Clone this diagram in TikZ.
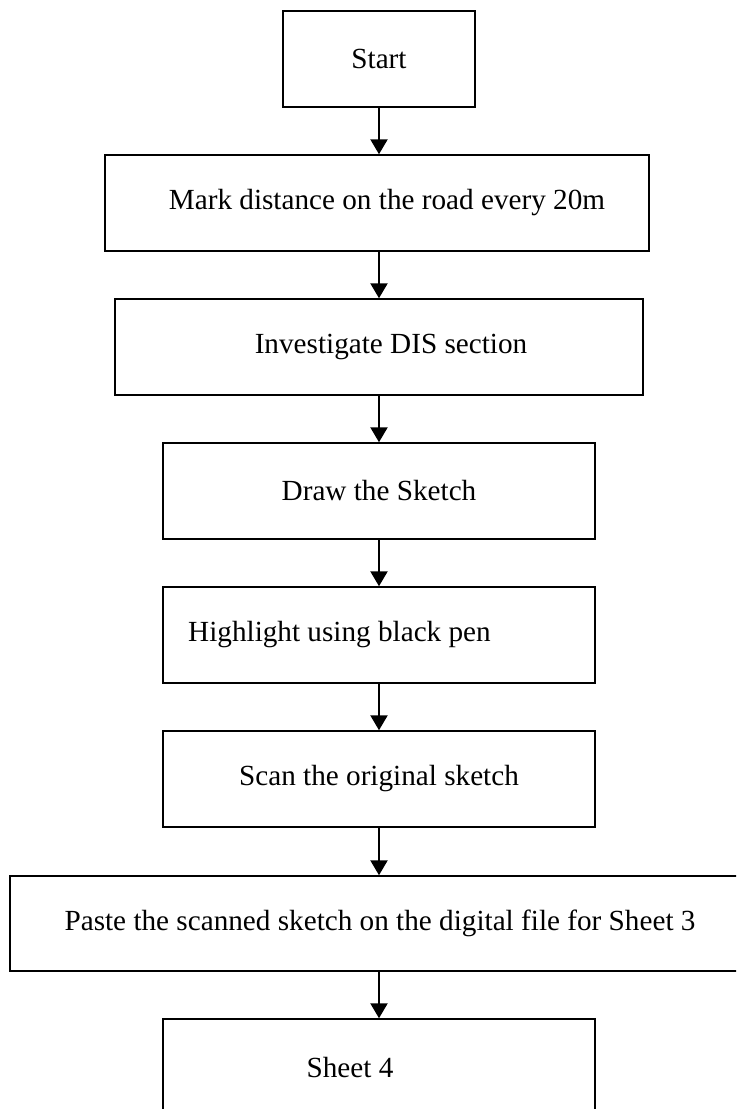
\documentclass[tikz,border=0pt]{standalone}
\usepackage{fontspec}
\setmainfont{Liberation Serif}
\usetikzlibrary{arrows.meta}
\begin{document}
\begin{tikzpicture}[x=0.5pt,y=-0.5pt,
  stepbox/.style={draw, line width=0.75pt, rectangle, inner sep=0pt,
    minimum height=48pt, font=\fontsize{14.6pt}{17pt}\selectfont},
  flow/.style={-{Triangle[width=8.5pt,length=7.5pt]}, line width=1.2pt}]
\useasboundingbox (0,0) rectangle (736,1109);
\clip (0,0) rectangle (736,1109);

% process steps
\node[stepbox, minimum width=96pt]  (start) at (379,59)  {Start};
\node[stepbox, minimum width=272pt] (mark)  at (377,203) {\hspace*{10pt}Mark distance on the road every 20m};
\node[stepbox, minimum width=264pt] (inv)   at (379,347) {\hspace*{12pt}Investigate DIS section};
\node[stepbox, minimum width=216pt] (sketch) at (379,491) {Draw the Sketch};
\node[stepbox, minimum width=216pt] (high)  at (379,635) {Highlight using black pen\hspace*{39.5pt}};
\node[stepbox, minimum width=216pt] (scan)  at (379,779) {Scan the original sketch};
\node[stepbox, minimum width=370pt, minimum height=47.5pt] (paste) at (380,923.5)
  {Paste the scanned sketch on the digital file for Sheet 3};
\node[stepbox, minimum width=216pt] (sheet) at (379,1067) {Sheet 4\hspace*{29pt}};

% connectors
\draw[flow] (start.south) -- (start.south |- mark.north);
\draw[flow] (mark.south -| inv.north) -- (inv.north);
\draw[flow] (inv.south) -- (inv.south |- sketch.north);
\draw[flow] (sketch.south) -- (sketch.south |- high.north);
\draw[flow] (high.south) -- (high.south |- scan.north);
\draw[flow] (scan.south) -- (scan.south |- paste.north);
\draw[flow] (paste.south -| sheet.north) -- (sheet.north);
\end{tikzpicture}
\end{document}
